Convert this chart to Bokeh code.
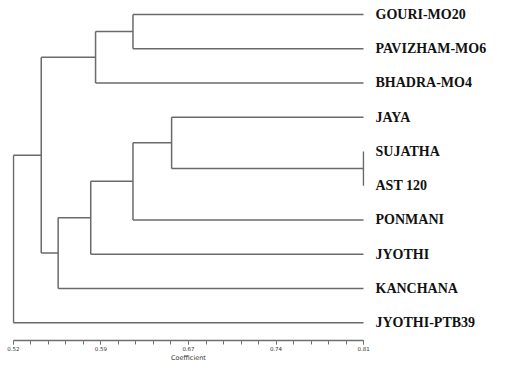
from bokeh.plotting import figure
from bokeh.models import ColumnDataSource, Range1d, FixedTicker
from bokeh.embed import file_html
from bokeh.resources import INLINE

# ---- data ----
leaves = ["GOURI-MO20", "PAVIZHAM-MO6", "BHADRA-MO4", "JAYA", "SUJATHA",
          "AST 120", "PONMANI", "JYOTHI", "KANCHANA", "JYOTHI-PTB39"]
# merges: (child_a, child_b, coefficient); new cluster ids start at len(leaves)
merge_a = [4, 0, 3, 11, 12, 14, 15, 13, 17]
merge_b = [5, 1, 10, 2, 6, 7, 8, 16, 9]
merge_coef = [0.81, 0.619, 0.651, 0.588, 0.619, 0.584, 0.557, 0.543, 0.52]
tick_values = [0.52, 0.5925, 0.665, 0.7375, 0.81]
tick_labels = ["0.52", "0.59", "0.67", "0.74", "0.81"]
axis_title = "Coefficient"

# ---- build dendrogram segments ----
leaf_x = max(merge_coef)
node_x = {i: leaf_x for i in range(len(leaves))}
node_y = {i: float(i) for i in range(len(leaves))}
x0, y0, x1, y1 = [], [], [], []
for k, (a, b, c) in enumerate(zip(merge_a, merge_b, merge_coef)):
    nid = len(leaves) + k
    for ch in (a, b):
        x0.append(c); y0.append(node_y[ch]); x1.append(node_x[ch]); y1.append(node_y[ch])
    x0.append(c); y0.append(node_y[a]); x1.append(c); y1.append(node_y[b])
    node_x[nid] = c
    node_y[nid] = (node_y[a] + node_y[b]) / 2
src = ColumnDataSource(dict(x0=x0, y0=y0, x1=x1, y1=y1))

W, H = 489, 364
BL, BR, BT, BB = 12, 118, 0, 21
frame_w = W - BL - BR
frame_h = H - BT - BB
lo, hi = min(merge_coef), max(merge_coef)
pad = (hi - lo) / (frame_w - 2)
top_px, bot_px = 14, 325
unit = (bot_px - top_px) / (len(leaves) - 1)

p = figure(width=W, height=H, output_backend="svg", toolbar_location=None,
           y_axis_location="right",
           x_range=Range1d(lo - pad, hi + pad),
           y_range=Range1d(len(leaves) - 1 + (frame_h - bot_px) / unit, -top_px / unit),
           min_border_left=BL, min_border_right=BR,
           min_border_top=BT, min_border_bottom=BB)
p.outline_line_color = None
p.grid.visible = False
p.background_fill_color = "white"
p.border_fill_color = "white"

p.segment(x0="x0", y0="y0", x1="x1", y1="y1", source=src,
          line_color="#6a6a6a", line_width=1.5)

# x axis (coefficient)
xa = p.xaxis[0]
xa.bounds = (lo, hi)
minor = [lo + (hi - lo) * i / 20 for i in range(21)]
xa.ticker = FixedTicker(ticks=tick_values, minor_ticks=minor)
xa.major_label_overrides = {v: s for v, s in zip(tick_values, tick_labels)}
xa.axis_line_color = "#707070"
xa.axis_line_width = 1.3
xa.major_tick_line_color = "#707070"
xa.minor_tick_line_color = "#707070"
xa.major_tick_out = 4
xa.major_tick_in = 0
xa.minor_tick_out = 4
xa.minor_tick_in = 0
xa.major_label_standoff = 1
xa.major_label_text_font = "DejaVu Sans"
xa.major_label_text_font_size = "5.5px"
xa.major_label_text_color = "#333333"
xa.axis_label = axis_title
xa.axis_label_standoff = 0
xa.axis_label_text_font = "DejaVu Sans"
xa.axis_label_text_font_size = "6.5px"
xa.axis_label_text_font_style = "normal"
xa.axis_label_text_color = "#333333"

# y axis on the right: leaf names
ya = p.yaxis[0]
ya.ticker = FixedTicker(ticks=list(range(len(leaves))))
ya.major_label_overrides = {i: n for i, n in enumerate(leaves)}
ya.axis_line_color = None
ya.major_tick_line_color = None
ya.minor_tick_line_color = None
ya.major_tick_out = 0
ya.major_tick_in = 0
ya.major_label_standoff = 11
ya.major_label_text_font = "Liberation Serif"
ya.major_label_text_font_style = "bold"
ya.major_label_text_font_size = "14px"
ya.major_label_text_color = "#111111"

open("out.html", "w").write(file_html(p, INLINE))
